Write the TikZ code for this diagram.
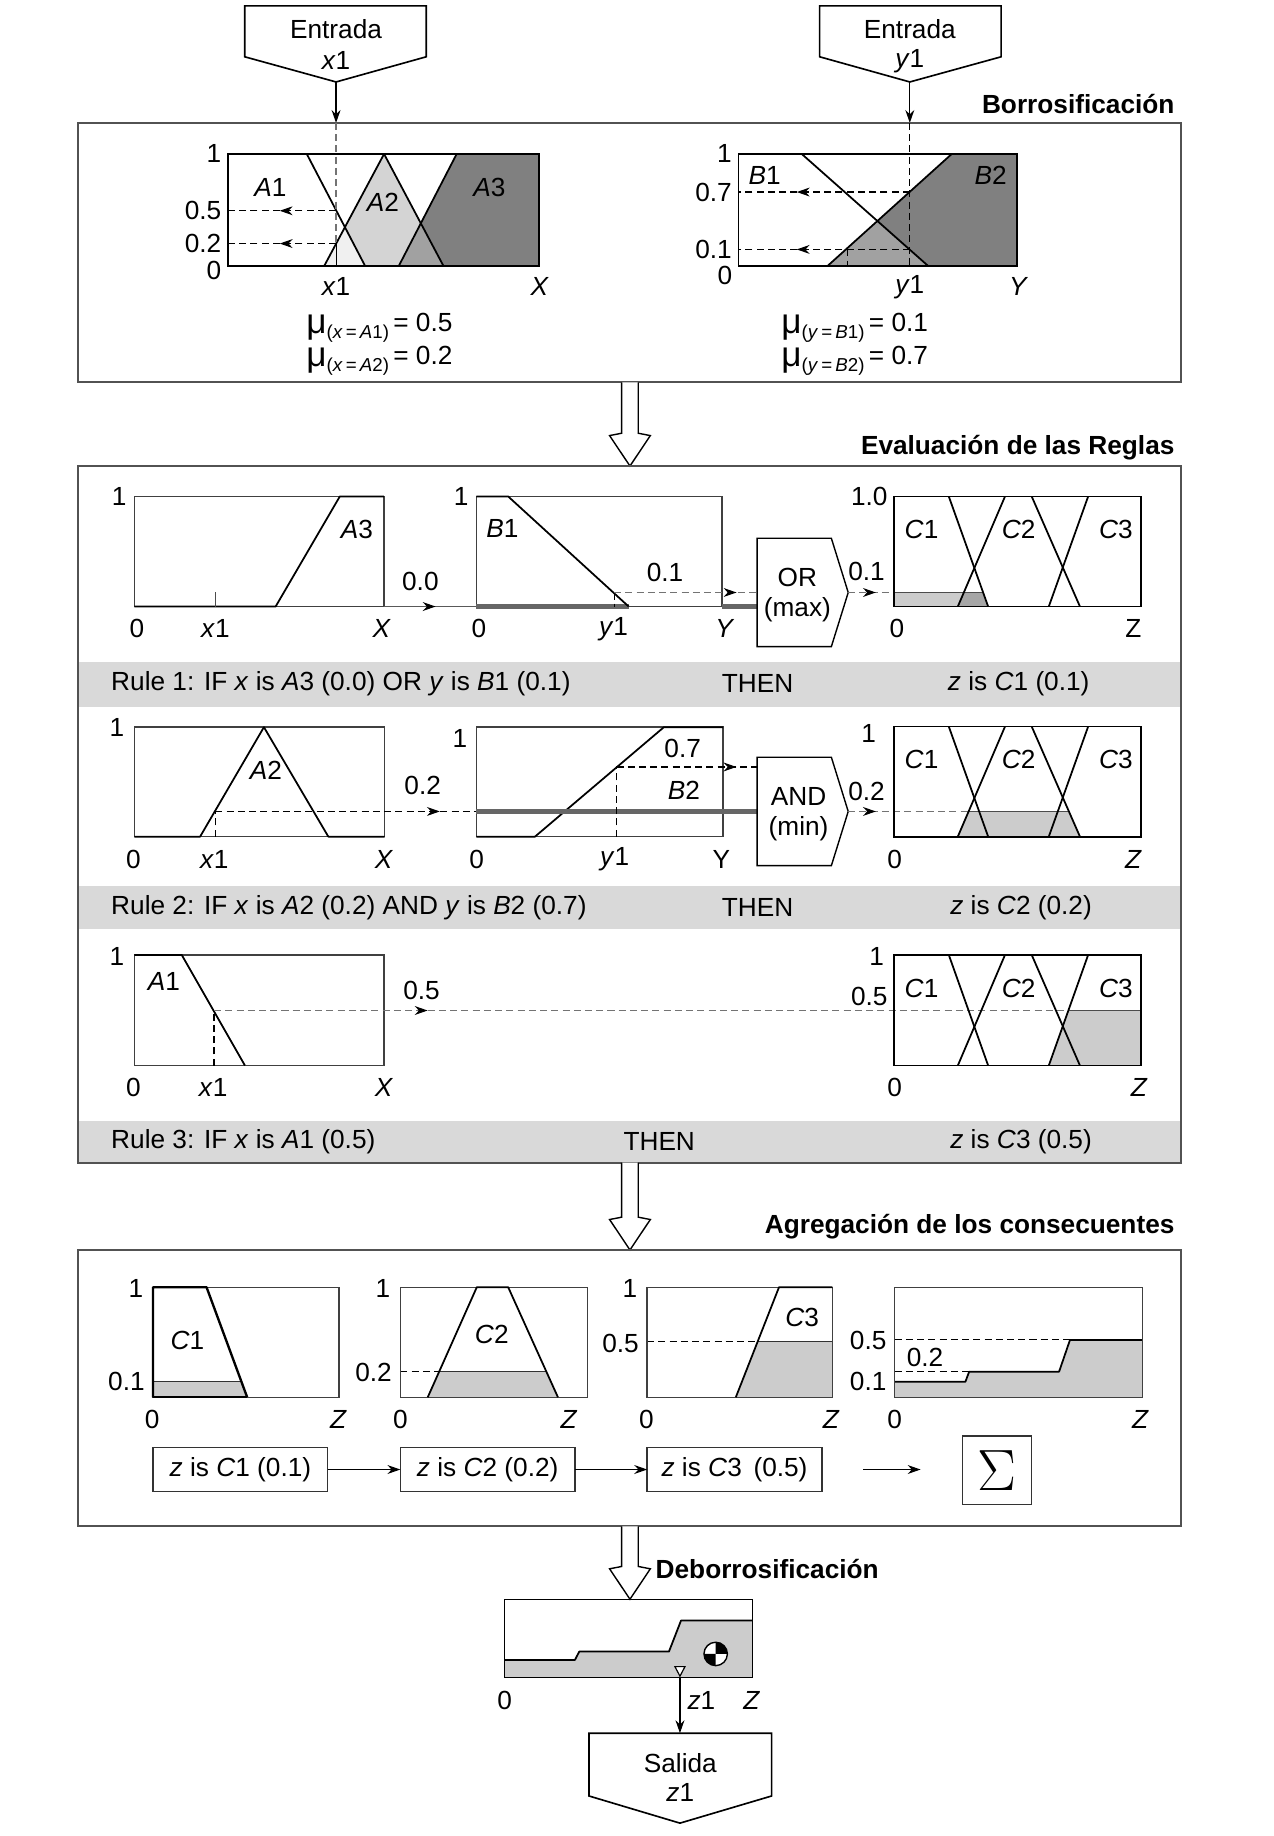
\documentclass[tikz,border=0pt]{standalone}
\usepackage{fontspec}
\setmainfont{Liberation Sans}
\usetikzlibrary{arrows.meta,decorations.markings}
\newcommand\iv[1]{\textit{#1}}
\newcommand\muA[3]{{\fontsize{15}{15}\selectfont\raisebox{-1pt}{μ}}\raisebox{-3pt}{\fontsize{8}{8}\selectfont(\iv{#1}\,=\,\iv{#2}1)}\,= #3}
\newcommand\harrow[3]{\draw[line width=0.6pt, fill=white] (#1-7.1,#2) -- (#1-7.1,#3-28) -- (#1-17.4,#3-26) -- (#1,#3) -- (#1+17.4,#3-26) -- (#1+7.1,#3-28) -- (#1+7.1,#2);}
\newcommand\cgraph[2]{%
 \draw[mf] (810.3,#1) -- (843.9,#2);
 \draw[mf] (818,#2) -- (858.3,#1);
 \draw[mf] (881.1,#1) -- (922.3,#2);
 \draw[mf] (895.7,#2) -- (929.3,#1);
 \draw[gbk] (763.7,#1) rectangle (974.1,#2);}
\begin{document}
\begin{tikzpicture}[x=0.5pt,y=-0.5pt,
  every node/.style={font=\fontsize{11.2}{13.4}\selectfont, inner sep=0pt, outer sep=0pt},
  frame/.style={draw=black!68, line width=0.85pt},
  gb/.style={draw=black!75, line width=0.6pt},
  gbk/.style={draw=black, line width=0.8pt},
  mf/.style={draw=black, line width=0.75pt, line join=round},
  dsh/.style={draw=black, dash pattern=on 3pt off 1.8pt, line width=0.5pt},
  gdsh/.style={draw=black!55, dash pattern=on 3pt off 1.8pt, line width=0.55pt},
  arr/.style={-{Stealth[length=5.5pt,width=3.8pt]}, line width=0.55pt},
  mid/.style={postaction={decorate},decoration={markings,mark=at position #1 with {\arrow[black,solid]{Stealth[length=5.5pt,width=3.8pt]}}}},
  hdr/.style={font=\fontsize{11.2}{13.4}\selectfont\bfseries},
  thickg/.style={draw=black!60, line width=1.8pt},
  rulebox/.style={draw=black!80, line width=0.6pt, minimum width=74.6pt, minimum height=18.9pt},
  ]
\useasboundingbox (0,0) rectangle (1088,1568);
\fill[white] (0,0) rectangle (1088,1568);

% ---------------- Inputs
\draw[line width=0.7pt, fill=white] (209,5) -- (364,5) -- (364,48.5) -- (287,70) -- (209,48.5) -- cycle;
\node (inXa) at (287,25) {Entrada};
\node (inXb) at (287,52) {\iv{x}1};
\draw[line width=0.7pt, fill=white] (700,5) -- (855,5) -- (855,48.5) -- (777,70) -- (700,48.5) -- cycle;
\node (inYa) at (777,25) {Entrada};
\node (inYb) at (777,52) {\iv{y}1};
\coordinate (inXt) at (287,70); \coordinate (inXe) at (287,105);
\coordinate (inYt) at (777,70); \coordinate (inYe) at (777,105);
\draw[arr] (inXt) -- (inXe);
\draw[arr] (inYt) -- (inYe);

% ---------------- Borrosificacion
\draw[frame] (67,105) rectangle (1008.5,326.5);
\node[hdr, anchor=east] (hBor) at (1003,89) {Borrosificación};

% graph A
\fill[black!50] (340.7,226.9) -- (390,131.5) -- (460.6,131.5) -- (460.6,226.9) -- cycle;
\fill[black!17] (277,226.9) -- (328,131.5) -- (378.6,226.9) -- cycle;
\fill[black!37] (340.7,226.9) -- (359.4,190.7) -- (378.6,226.9) -- cycle;
\fill[black!6] (277,226.9) -- (294.6,194) -- (311.7,226.9) -- cycle;
\draw[mf] (194.5,131.5) -- (262,131.5) -- (311.7,226.9);
\draw[mf] (277,226.9) -- (328,131.5) -- (378.6,226.9);
\draw[mf] (340.7,226.9) -- (390,131.5) -- (460.6,131.5);
\draw[gbk] (194.5,131.5) rectangle (460.6,226.9);
\draw[gdsh] (287,105) -- (287,208);
\draw[line width=0.4pt] (287,208) -- (287,226.9);
\draw[dsh, mid=0.52] (287,180) -- (194.5,180);
\draw[dsh, mid=0.52] (287,208) -- (194.5,208);
\node[anchor=east] (ga1) at (189,131.5) {1};
\node[anchor=east] (ga2) at (189,180) {0.5};
\node[anchor=east] (ga3) at (189,208) {0.2};
\node[anchor=east] (ga4) at (189,231) {0};
\node (ga5) at (287,245) {\iv{x}1};
\node (ga6) at (461,245) {\iv{X}};
\node (ga7) at (231,160) {\iv{A}1};
\node (ga8) at (327,173) {\iv{A}2};
\node (ga9) at (418,160) {\iv{A}3};
\node (muA) at (324,280) {\muA{x}{A}{0.5}};
\node (muB) at (324,308) {{\fontsize{15}{15}\selectfont\raisebox{-1pt}{μ}}\raisebox{-3pt}{\fontsize{8}{8}\selectfont(\iv{x}\,=\,\iv{A}2)}\,= 0.2};

% graph B
\fill[black!50] (707,226.9) -- (812.8,131.5) -- (868.3,131.5) -- (868.3,226.9) -- cycle;
\fill[black!37] (707,226.9) -- (749.3,188.7) -- (792.4,226.9) -- cycle;
\draw[mf] (630.7,131.5) -- (684.7,131.5) -- (792.4,226.9);
\draw[mf] (707,226.9) -- (812.8,131.5) -- (868.3,131.5);
\draw[gbk] (630.7,131.5) rectangle (868.3,226.9);
\draw[dsh] (777,105) -- (777,226.9);
\draw[dsh, mid=0.66] (777,164) -- (630.7,164);
\draw[dsh, mid=0.66] (777,213) -- (630.7,213);
\draw[dsh] (723.7,213) -- (723.7,226.9);
\node[anchor=east] (gb1) at (625,131.5) {1};
\node[anchor=east] (gb2) at (625,164) {0.7};
\node[anchor=east] (gb3) at (625,213) {0.1};
\node (gb4) at (619,235) {0};
\node (gb5) at (653,149.5) {\iv{B}1};
\node (gb6) at (846,149.5) {\iv{B}2};
\node (gb7) at (777,245) {\iv{y}1};
\node (gb8) at (870,245) {\iv{Y}};
\node (muC) at (730,280) {{\fontsize{15}{15}\selectfont\raisebox{-1pt}{μ}}\raisebox{-3pt}{\fontsize{8}{8}\selectfont(\iv{y}\,=\,\iv{B}1)}\,= 0.1};
\node (muD) at (730,308) {{\fontsize{15}{15}\selectfont\raisebox{-1pt}{μ}}\raisebox{-3pt}{\fontsize{8}{8}\selectfont(\iv{y}\,=\,\iv{B}2)}\,= 0.7};

\harrow{538}{326.5}{398}

% ---------------- Evaluacion
\fill[black!15] (67,565) rectangle (1008.5,603.5);
\fill[black!15] (67,757) rectangle (1008.5,793);
\fill[black!15] (67,957) rectangle (1008.5,993);
\draw[frame] (67,398) rectangle (1008.5,993);
\node[hdr, anchor=east] (hEva) at (1003,382) {Evaluación de las Reglas};

% Row 1
\draw[gb] (114.7,424) rectangle (327.8,518);
\draw[mf] (114.7,518) -- (235.4,518) -- (290.2,424) -- (327.8,424);
\draw[line width=0.4pt, black!70] (183.6,505.8) -- (183.6,518);
\node[anchor=east] (r1a) at (108,424) {1};
\node (r1b) at (304.9,452) {\iv{A}3};
\node (r1c) at (117,537) {0};
\node (r1d) at (184,537) {\iv{x}1};
\node (r1e) at (326,537) {\iv{X}};
\node (r1f) at (359,497) {0.0};
\draw[black!65, line width=0.6pt, mid=0.56] (327.8,518) -- (406.8,518);

\draw[gb] (406.8,424) rectangle (616.7,518);
\draw[thickg] (406.8,518) -- (536.9,518);
\draw[thickg] (616.7,518) -- (646.6,518);
\draw[mf] (406.8,424) -- (434,424) -- (536.9,518);
\draw[dsh] (524.5,506) -- (524.5,518);
\draw[gdsh, mid=0.856] (524.5,506) -- (646.6,506);
\node[anchor=east] (r1g) at (400,424) {1};
\node (r1h) at (429,451) {\iv{B}1};
\node (r1i) at (409,537) {0};
\node (r1j) at (524,537) {\iv{y}1};
\node (r1k) at (619,537) {\iv{Y}};
\node (r1l) at (568,489) {0.1};

\draw[line width=0.6pt, fill=white] (646.6,459.7) -- (710,459.7) -- (724.4,506) -- (710,552.2) -- (646.6,552.2) -- cycle;
\node (orA) at (681,493) {OR};
\node (orB) at (681,521) {(max)};
\coordinate (orT) at (724.4,506);
\coordinate (c1in) at (763.7,506);
\draw[gdsh, mid=0.6] (orT) -- (c1in);
\node (r1m) at (740,488) {0.1};

\fill[black!20] (763.7,518) -- (763.7,506) -- (839.6,506) -- (843.9,518) -- cycle;
\fill[black!35] (818,518) -- (823.1,506) -- (839.6,506) -- (843.9,518) -- cycle;
\draw[black!70, line width=0.6pt] (763.7,506) -- (839.6,506);
\cgraph{424}{518}
\node[anchor=east] (r1n) at (758,424) {1.0};
\node (r1o) at (787,452) {\iv{C}1};
\node (r1p) at (870,452) {\iv{C}2};
\node (r1q) at (953,452) {\iv{C}3};
\node (r1r) at (766,537) {0};
\node (r1s) at (968,537) {Z};
\node[anchor=west] (ru1) at (95,584) {Rule 1: IF \iv{x} is \iv{A}3 (0.0) OR \iv{y} is \iv{B}1 (0.1)};
\node (th1) at (647,584) {THEN};
\node (cz1) at (870,584) {\iv{z} is \iv{C}1 (0.1)};

% Row 2
\draw[gb] (114.7,621) rectangle (328.5,714.5);
\draw[mf] (114.7,714.5) -- (170.9,714.5) -- (225.4,621) -- (280.4,714.5) -- (328.5,714.5);
\draw[dsh] (184,714.5) -- (184,693);
\draw[dsh, mid=0.86] (184,693) -- (406.8,693);
\node[anchor=east] (r2a) at (106,621) {1};
\node (r2b) at (227,658) {\iv{A}2};
\node (r2c) at (114,734) {0};
\node (r2d) at (183,734) {\iv{x}1};
\node (r2e) at (328,734) {\iv{X}};
\node (r2f) at (361,671) {0.2};

\draw[gb] (406.8,621) rectangle (617.6,714.5);
\draw[mf] (406.8,714.5) -- (456.9,714.5) -- (567,621) -- (617.6,621);
\draw[thickg] (406.8,693) -- (646.6,693);
\draw[dsh] (526.5,714.5) -- (526.5,655);
\draw[dsh, mid=0.853] (526.5,655) -- (646.6,655);
\node[anchor=east] (r2g) at (399,631) {1};
\node (r2h) at (583,639) {0.7};
\node (r2i) at (584,675) {\iv{B}2};
\node (r2j) at (407,734) {0};
\node (r2k) at (525,734) {\iv{y}1};
\node (r2l) at (616,734) {Y};

\draw[line width=0.6pt, fill=white] (646.6,646.7) -- (710,646.7) -- (724.4,693) -- (710,739.3) -- (646.6,739.3) -- cycle;
\node (andA) at (682,680) {AND};
\node (andB) at (682,708) {(min)};
\coordinate (andT) at (724.4,693);
\coordinate (c2in) at (827.1,693);
\draw[gdsh, mid=0.23] (andT) -- (c2in);
\node (r2m) at (740,676) {0.2};

\fill[black!20] (818,714.5) -- (827.1,693) -- (913,693) -- (922.3,714.5) -- cycle;
\draw[black!70, line width=0.6pt] (827.1,693) -- (913,693);
\cgraph{620.5}{714.5}
\node[anchor=east] (r2n) at (748,626) {1};
\node (r2o) at (787,649) {\iv{C}1};
\node (r2p) at (870,649) {\iv{C}2};
\node (r2q) at (953,649) {\iv{C}3};
\node (r2r) at (764,734) {0};
\node (r2s) at (968,734) {\iv{Z}};
\node[anchor=west] (ru2) at (95,775) {Rule 2: IF \iv{x} is \iv{A}2 (0.2) AND \iv{y} is \iv{B}2 (0.7)};
\node (th2) at (647,775) {THEN};
\node (cz2) at (872,775) {\iv{z} is \iv{C}2 (0.2)};

% Row 3
\draw[gb] (114.7,815.5) rectangle (327.8,910);
\draw[mf] (114.7,815.5) -- (155.2,815.5) -- (209.2,910);
\draw[dsh] (182.8,910) -- (182.8,863);
\coordinate (a1out) at (182.8,863);
\coordinate (c3in) at (912.4,863);
\draw[gdsh, mid=0.25] (a1out) -- (c3in);
\node[anchor=east] (r3a) at (106,817) {1};
\node (r3b) at (140,838) {\iv{A}1};
\node (r3c) at (114,929) {0};
\node (r3d) at (182,929) {\iv{x}1};
\node (r3e) at (328,929) {\iv{X}};
\node (r3f) at (360,846) {0.5};

\fill[black!20] (895.7,910) -- (912.4,863) -- (974.1,863) -- (974.1,910) -- cycle;
\draw[black!70, line width=0.6pt] (912.4,863) -- (974.1,863);
\cgraph{815.5}{910}
\node[anchor=east] (r3n) at (755,817) {1};
\node[anchor=east] (r3o) at (758,851) {0.5};
\node (r3p) at (787,844) {\iv{C}1};
\node (r3q) at (870,844) {\iv{C}2};
\node (r3r) at (953,844) {\iv{C}3};
\node (r3s) at (764,929) {0};
\node (r3t) at (973,929) {\iv{Z}};
\node[anchor=west] (ru3) at (95,975) {Rule 3: IF \iv{x} is \iv{A}1 (0.5)};
\node (th3) at (563,975) {THEN};
\node (cz3) at (872,975) {\iv{z} is \iv{C}3 (0.5)};

\harrow{538}{993}{1067.5}

% ---------------- Agregacion
\draw[frame] (67,1067.5) rectangle (1008.5,1303.5);
\node[hdr, anchor=east] (hAgr) at (1003,1048) {Agregación de los consecuentes};

% G1
\fill[black!20] (130.7,1193.3) -- (130.7,1180) -- (206.2,1180) -- (211.1,1193.3) -- cycle;
\draw[black!80, line width=0.6pt] (130.7,1180) -- (206.2,1180);
\draw[gb] (130.7,1099.3) rectangle (289.5,1193.3);
\draw[mf, line width=1pt] (130.7,1193.3) -- (130.7,1099.3) -- (176.4,1099.3) -- (211.1,1193.3);
\draw[mf] (130.7,1193.3) -- (211.1,1193.3);
\node (g1a) at (116,1100) {1};
\node (g1b) at (160,1145) {\iv{C}1};
\node (g1c) at (108,1180) {0.1};
\node (g1d) at (130,1212) {0};
\node (g1e) at (289,1212) {\iv{Z}};
% G2
\fill[black!20] (365.3,1193.3) -- (375.1,1171.4) -- (466.6,1171.4) -- (476.5,1193.3) -- cycle;
\draw[black!80, line width=0.6pt] (375.1,1171.4) -- (466.6,1171.4);
\draw[dsh] (341.9,1171.4) -- (375.1,1171.4);
\draw[gb] (341.9,1099.3) rectangle (501.6,1193.3);
\draw[mf] (365.3,1193.3) -- (407.2,1099.3) -- (434,1099.3) -- (476.5,1193.3);
\node (g2a) at (327,1100) {1};
\node (g2b) at (420,1140) {\iv{C}2};
\node (g2c) at (319,1172) {0.2};
\node (g2d) at (342,1212) {0};
\node (g2e) at (486,1212) {\iv{Z}};
% G3
\fill[black!20] (628.4,1193.3) -- (647.1,1145.7) -- (710.8,1145.7) -- (710.8,1193.3) -- cycle;
\draw[black!80, line width=0.6pt] (647.1,1145.7) -- (710.8,1145.7);
\draw[dsh] (552.6,1145.7) -- (647.1,1145.7);
\draw[gb] (552.6,1099.3) rectangle (710.8,1193.3);
\draw[mf] (628.4,1193.3) -- (665.3,1099.3) -- (710.8,1099.3);
\node (g3a) at (538,1100) {1};
\node (g3b) at (685,1125) {\iv{C}3};
\node (g3c) at (530,1147) {0.5};
\node (g3d) at (552,1212) {0};
\node (g3e) at (710,1212) {\iv{Z}};
% G4
\fill[black!20] (764,1193.3) -- (764,1180) -- (824.5,1180) -- (827.7,1171.4) -- (904.5,1171.4) -- (913.8,1144.3) -- (975.5,1144.3) -- (975.5,1193.3) -- cycle;
\draw[dsh] (764,1144.3) -- (913.8,1144.3);
\draw[dsh] (764,1171.4) -- (827.7,1171.4);
\draw[mf] (764,1180) -- (824.5,1180) -- (827.7,1171.4) -- (904.5,1171.4) -- (913.8,1144.3) -- (975.5,1144.3);
\draw[gb] (764,1099.3) rectangle (975.5,1193.3);
\node[anchor=east] (g4a) at (757,1145) {0.5};
\node (g4b) at (790,1159) {0.2};
\node[anchor=east] (g4c) at (757,1180) {0.1};
\node (g4d) at (764,1212) {0};
\node (g4e) at (974,1212) {\iv{Z}};

\node[rulebox] (rb1) at (205.3,1255) {\iv{z} is \iv{C}1 (0.1)};
\node[rulebox] (rb2) at (416.5,1255) {\iv{z} is \iv{C}2 (0.2)};
\node[rulebox] (rb3) at (627.3,1255) {\iv{z} is \iv{C}3 \,(0.5)};
\node[draw=black!80, line width=0.6pt, minimum width=29.4pt, minimum height=29.2pt] (sig) at (851.6,1255.5) {\fontsize{24}{24}\selectfont$\Sigma$};
\draw[arr] (rb1) -- (rb2);
\draw[arr] (rb2) -- (rb3);
\coordinate (fa1) at (737.2,1255); \coordinate (fa2) at (786.2,1255);
\draw[arr] (fa1) -- (fa2);

\harrow{538}{1303.5}{1365.8}
\node[hdr, anchor=west] (hDeb) at (560,1340) {Deborrosificación};

% ---------------- Defuzz
\fill[black!20] (430.7,1432.7) -- (430.7,1417.6) -- (491,1417.6) -- (494.7,1410.5) -- (571.3,1410.5) -- (581.6,1384) -- (642.8,1384) -- (642.8,1432.7) -- cycle;
\draw[mf] (430.7,1417.6) -- (491,1417.6) -- (494.7,1410.5) -- (571.3,1410.5) -- (581.6,1384) -- (642.8,1384);
\draw[line width=0.6pt] (430.7,1365.8) rectangle (642.8,1432.7);
\fill[white] (611.2,1412.5) circle[radius=10];
\fill[black] (611.2,1412.5) -- (621.2,1412.5) arc[start angle=0,end angle=-90,radius=10] -- cycle;
\fill[black] (611.2,1412.5) -- (601.2,1412.5) arc[start angle=180,end angle=90,radius=10] -- cycle;
\draw[line width=0.6pt] (611.2,1412.5) circle[radius=10];
\draw[fill=white, line width=0.5pt] (576.4,1423.3) -- (585,1423.3) -- (580.7,1431.5) -- cycle;
\node (d0) at (431,1452) {0};
\node (dz1) at (599,1452) {\iv{z}1};
\node (dZ) at (642,1452) {\iv{Z}};
\coordinate (dzs) at (580.7,1432.7);
\coordinate (salT) at (580.7,1480.2);
\draw[arr] (dzs) -- (salT);
\draw[line width=0.7pt, fill=white] (503,1480.2) -- (659,1480.2) -- (659,1533.8) -- (580.7,1557) -- (503,1533.8) -- cycle;
\node (salA) at (581,1506) {Salida};
\node (salB) at (581,1531) {\iv{z}1};
\end{tikzpicture}
\end{document}
